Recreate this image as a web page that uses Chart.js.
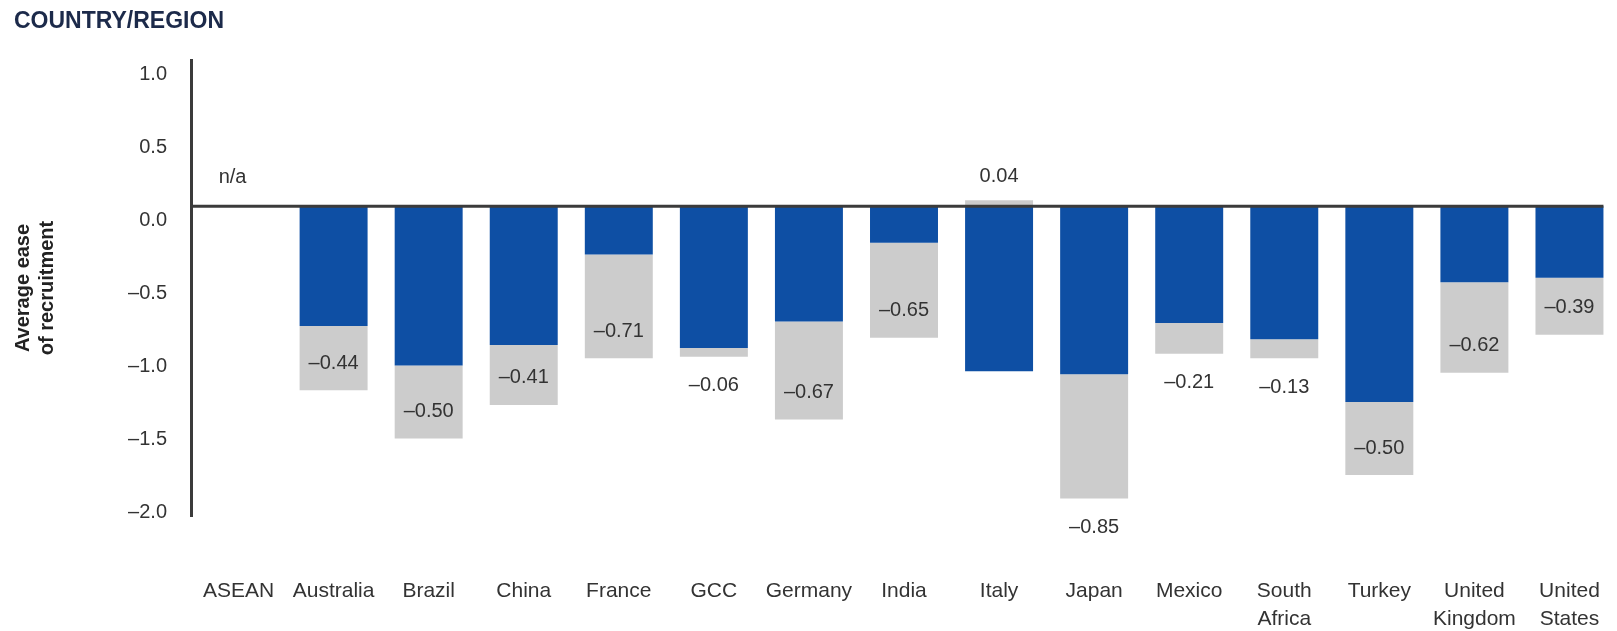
<!DOCTYPE html>
<html>
<head>
<meta charset="utf-8">
<script src="https://cdn.jsdelivr.net/npm/chart.js@4"></script>
<style>
  body { margin: 0; background: #fff; }
  #wrap { position: relative; width: 1617px; height: 631px; }
  #title {
    position: absolute; left: 14px; top: 9px;
    font: bold 23px "Liberation Sans", Arial, sans-serif;
    line-height: 22px; color: #1c2a4a;
  }
</style>
</head>
<body>
<div id="wrap">
  <div id="title">COUNTRY/REGION</div>
  <canvas id="chart" width="1617" height="631"></canvas>
</div>
<script>
// categories and values
const categories = ['ASEAN', 'Australia', 'Brazil', 'China', 'France', 'GCC', 'Germany', 'India',
    'Italy', 'Japan', 'Mexico', ['South', 'Africa'], 'Turkey', ['United', 'Kingdom'], ['United', 'States']];
const blueValues = [null, -0.82, -1.09, -0.95, -0.33, -0.97, -0.79, -0.25, -1.13, -1.15, -0.80, -0.91, -1.34, -0.52, -0.49];
const greyValues = [null, -0.44, -0.50, -0.41, -0.71, -0.06, -0.67, -0.65, 0.04, -0.85, -0.21, -0.13, -0.50, -0.62, -0.39];
const yTicks = [1.0, 0.5, 0.0, -0.5, -1.0, -1.5, -2.0];
const naText = 'n/a';
// categories whose grey value label sits under the bar instead of inside it
const labelsBelow = ['GCC', 'Japan', 'Mexico', 'South Africa'];

const FONT = '"Liberation Sans", Arial, sans-serif';
const TEXT = '#333333';

function fmt(v, digits) {
    return (v < 0 ? '\u2013' : '') + Math.abs(v).toFixed(digits);
}

// draws the zero line plus the value labels of the grey segments
const labelPlugin = {
    id: 'labels',
    afterDatasetsDraw(chart) {
        const ctx = chart.ctx;
        const y = chart.scales.y;
        const blueMeta = chart.getDatasetMeta(0);
        const greyMeta = chart.getDatasetMeta(1);
        const zero = y.getPixelForValue(0);

        // zero line up to the right edge of the last bar
        const last = blueMeta.data[blueMeta.data.length - 1];
        ctx.save();
        ctx.strokeStyle = '#3b3b3b';
        ctx.lineWidth = 3;
        ctx.beginPath();
        ctx.moveTo(chart.chartArea.left, zero);
        ctx.lineTo(last.x + last.width / 2, zero);
        ctx.stroke();

        ctx.font = '20px ' + FONT;
        ctx.fillStyle = TEXT;
        ctx.textAlign = 'center';
        ctx.textBaseline = 'middle';
        greyValues.forEach((g, i) => {
            const el = greyMeta.data[i];
            const x = blueMeta.data[i].x;
            const name = [].concat(categories[i]).join(' ');
            if (g === null) {
                ctx.fillText(naText, x - 6, zero - 29);
                return;
            }
            if (g > 0) {
                ctx.fillText(fmt(g, 2), x, el.y - 24);
            } else if (labelsBelow.includes(name)) {
                ctx.fillText(fmt(g, 2), x, el.y + 29);
            } else {
                ctx.fillText(fmt(g, 2), x, el.y - 27);
            }
        });
        ctx.restore();
    }
};

new Chart(document.getElementById('chart'), {
    type: 'bar',
    data: {
        labels: categories,
        datasets: [
            { data: blueValues, backgroundColor: '#0e4fa4', borderWidth: 0 },
            { data: greyValues, backgroundColor: '#cccccc', borderWidth: 0 }
        ]
    },
    options: {
        responsive: false,
        animation: false,
        layout: { padding: { top: 60, left: 0, right: 0, bottom: 0 } },
        datasets: { bar: { categoryPercentage: 1.0, barPercentage: 0.715 } },
        plugins: {
            legend: { display: false },
            tooltip: { enabled: false }
        },
        scales: {
            x: {
                stacked: true,
                offset: true,
                grid: { display: false, drawTicks: false },
                border: { display: false },
                ticks: {
                    color: TEXT,
                    font: { family: FONT, size: 21, lineHeight: 1.3 },
                    padding: 62,
                    maxRotation: 0,
                    autoSkip: false
                },
                afterFit(scale) {
                    scale.height = 115;
                    scale.paddingLeft = 0;
                    scale.paddingRight = 0;
                }
            },
            y: {
                stacked: true,
                min: -2.12,
                max: 1.0,
                grid: { display: false, drawTicks: false },
                border: { display: true, color: '#3b3b3b', width: 3 },
                afterBuildTicks(scale) {
                    scale.ticks = yTicks.map(v => ({ value: v }));
                },
                ticks: {
                    color: TEXT,
                    font: { family: FONT, size: 20 },
                    padding: 24,
                    labelOffset: 14,
                    callback: v => fmt(v, 1)
                },
                title: {
                    display: true,
                    text: ['Average ease', 'of recruitment'],
                    color: '#222222',
                    font: { family: FONT, size: 20, weight: 'bold', lineHeight: 1.2 },
                    padding: { top: 11, bottom: 0 }
                },
                afterFit(scale) { scale.width = 191; }
            }
        }
    },
    plugins: [labelPlugin]
});
</script>
</body>
</html>
